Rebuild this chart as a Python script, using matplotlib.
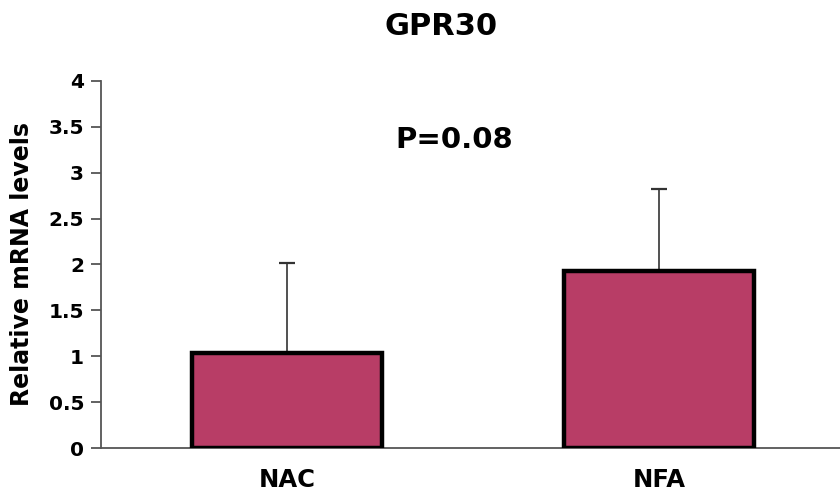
import matplotlib
matplotlib.use("Agg")
import matplotlib.pyplot as plt

# data
groups = ["NAC", "NFA"]
means = [1.04, 1.93]
errors = [0.98, 0.89]
p_label = "P=0.08"
title = "GPR30"
yticks = [0, 0.5, 1, 1.5, 2, 2.5, 3, 3.5, 4]
ytick_labels = ["0", "0.5", "1", "1.5", "2", "2.5", "3", "3.5", "4"]

plt.rcParams['font.family'] = ['DejaVu Sans']
plt.rcParams['font.weight'] = 'bold'

fig = plt.figure(figsize=(8.4, 4.99), dpi=100)
ax = fig.add_axes([0.120, 0.102, 0.88, 0.736])

x = list(range(len(groups)))
ax.bar(x, means, width=0.51, color="#B83D66", edgecolor="black", linewidth=3.2, zorder=3)
ax.errorbar(x, means, yerr=[[0] * len(errors), errors], fmt="none",
            ecolor="#333333", elinewidth=1.2, capsize=6, capthick=1.6, zorder=2)

ax.set_xlim(-0.5, 1.487)
ax.set_ylim(0, 4)
ax.set_yticks(yticks)
ax.set_yticklabels(ytick_labels, fontsize=14.5, fontweight="bold")
ax.set_xticks(x)
ax.set_xticklabels(groups, fontsize=17.5, fontweight="bold")
ax.tick_params(axis="x", length=0, pad=14)
ax.tick_params(axis="y", length=7, width=1.3, color="#555555", pad=5)
ax.set_ylabel("Relative mRNA levels", fontsize=17, fontweight="bold", va="center")
ax.yaxis.set_label_coords(-0.106, 0.5)

for side in ["top", "right"]:
    ax.spines[side].set_visible(False)
for side in ["left", "bottom"]:
    ax.spines[side].set_color("#555555")
    ax.spines[side].set_linewidth(1.3)

ax.text(0.45, 3.36, p_label, fontsize=21, fontweight="bold", ha="center", va="center")
fig.text(0.525, 0.946, title, fontsize=22, fontweight="bold", ha="center", va="center")

fig.savefig("out.png", dpi=100)
